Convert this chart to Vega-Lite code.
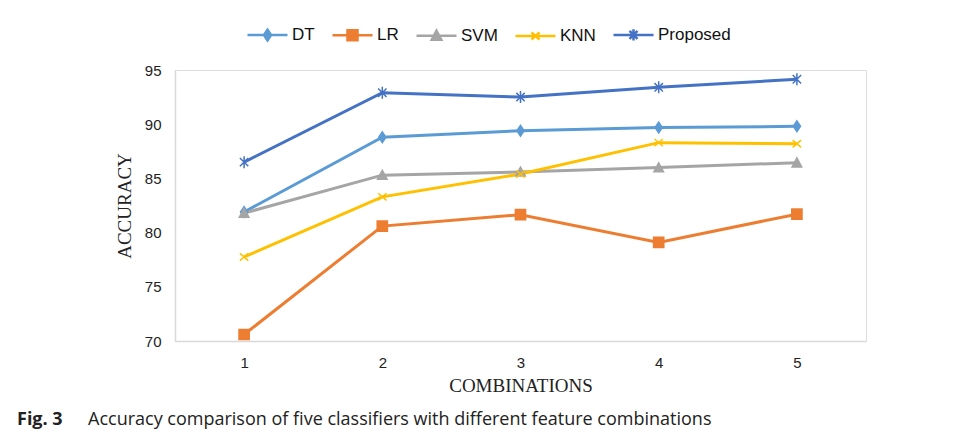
{
  "$schema": "https://vega.github.io/schema/vega-lite/v6.json",
  "autosize": "none",
  "width": 691,
  "height": 271,
  "padding": {"left": 175, "top": 70, "right": 94, "bottom": 99},
  "background": "white",
  "title": {
    "text": "Fig. 3",
    "subtitle": "Accuracy comparison of five classifiers with different feature combinations",
    "orient": "bottom",
    "anchor": "start",
    "frame": "group",
    "dx": -158,
    "offset": 16,
    "font": "Open Sans",
    "fontSize": 18,
    "fontWeight": "bold",
    "color": "#222",
    "subtitleFont": "Open Sans",
    "subtitleFontSize": 18,
    "subtitleColor": "#222",
    "subtitlePadding": -18,
    "encode": {"subtitle": {"update": {"dx": {"value": -87}}}}
  },
  "data": {
    "values": [
      {"combination": 1, "series": "DT", "accuracy": 81.9},
      {"combination": 2, "series": "DT", "accuracy": 88.8},
      {"combination": 3, "series": "DT", "accuracy": 89.4},
      {"combination": 4, "series": "DT", "accuracy": 89.7},
      {"combination": 5, "series": "DT", "accuracy": 89.8},
      {"combination": 1, "series": "LR", "accuracy": 70.6},
      {"combination": 2, "series": "LR", "accuracy": 80.6},
      {"combination": 3, "series": "LR", "accuracy": 81.65},
      {"combination": 4, "series": "LR", "accuracy": 79.1},
      {"combination": 5, "series": "LR", "accuracy": 81.7},
      {"combination": 1, "series": "SVM", "accuracy": 81.8},
      {"combination": 2, "series": "SVM", "accuracy": 85.3},
      {"combination": 3, "series": "SVM", "accuracy": 85.6},
      {"combination": 4, "series": "SVM", "accuracy": 86.0},
      {"combination": 5, "series": "SVM", "accuracy": 86.45},
      {"combination": 1, "series": "KNN", "accuracy": 77.75},
      {"combination": 2, "series": "KNN", "accuracy": 83.3},
      {"combination": 3, "series": "KNN", "accuracy": 85.4},
      {"combination": 4, "series": "KNN", "accuracy": 88.3},
      {"combination": 5, "series": "KNN", "accuracy": 88.2},
      {"combination": 1, "series": "Proposed", "accuracy": 86.5},
      {"combination": 2, "series": "Proposed", "accuracy": 92.9},
      {"combination": 3, "series": "Proposed", "accuracy": 92.5},
      {"combination": 4, "series": "Proposed", "accuracy": 93.4},
      {"combination": 5, "series": "Proposed", "accuracy": 94.15}
    ]
  },
  "encoding": {
    "x": {
      "field": "combination",
      "type": "ordinal",
      "scale": {"type": "point", "padding": 0.5},
      "axis": {
        "title": "COMBINATIONS",
        "labelAngle": 0,
        "ticks": false,
        "grid": false,
        "domainColor": "#D9D9D9",
        "domainWidth": 1.5,
        "labelFont": "Liberation Sans",
        "labelFontSize": 15,
        "labelColor": "#222",
        "labelPadding": 14,
        "titleFont": "Liberation Serif",
        "titleFontSize": 19,
        "titleFontWeight": "normal",
        "titleColor": "#222",
        "titlePadding": 6
      }
    },
    "y": {
      "field": "accuracy",
      "type": "quantitative",
      "scale": {"domain": [70, 95], "zero": false, "nice": false},
      "axis": {
        "title": "ACCURACY",
        "values": [70, 75, 80, 85, 90, 95],
        "ticks": false,
        "grid": false,
        "domainColor": "#D9D9D9",
        "domainWidth": 1.5,
        "labelFont": "Liberation Sans",
        "labelFontSize": 15,
        "labelColor": "#222",
        "labelPadding": 14,
        "titleFont": "Liberation Serif",
        "titleFontSize": 19,
        "titleFontWeight": "normal",
        "titleColor": "#222",
        "titlePadding": 10
      }
    }
  },
  "layer": [
    {
      "mark": {"type": "line", "strokeWidth": 3},
      "encoding": {
        "color": {
          "field": "series",
          "type": "nominal",
          "sort": ["DT", "LR", "SVM", "KNN", "Proposed"],
          "scale": {
            "domain": ["DT", "LR", "SVM", "KNN", "Proposed"],
            "range": ["#5B9BD5", "#ED7D31", "#A5A5A5", "#FFC000", "#4472C4"]
          },
          "legend": {
            "title": null,
            "orient": "none",
            "direction": "horizontal",
            "columns": 5,
            "legendX": 71,
            "legendY": -57,
            "symbolSize": 1600,
            "labelFont": "Liberation Sans",
            "labelFontSize": 17,
            "labelColor": "#111",
            "labelOffset": 3,
            "columnPadding": 12,
            "encode": {
              "symbols": {
                "update": {
                  "shape": {"signal": "datum.value === 'DT' ? 'M-1,0H1M0,-0.27L0.18,0L0,0.27L-0.18,0Z' : datum.value === 'LR' ? 'M-1,0H1M-0.25,-0.25H0.25V0.25H-0.25Z' : datum.value === 'SVM' ? 'M-1,0H1M0,-0.25L0.24,0.2H-0.24Z' : datum.value === 'KNN' ? 'M-1,0H1M-0.2,-0.18L0.2,0.18M-0.2,0.18L0.2,-0.18' : 'M-1,0H1M-0.2,-0.2L0.2,0.2M-0.2,0.2L0.2,-0.2M0,-0.28V0.28'"},
                  "fill": {"scale": "color", "field": "value"},
                  "stroke": {"scale": "color", "field": "value"},
                  "strokeWidth": {"value": 2.5},
                  "opacity": {"value": 1}
                }
              }
            }
          }
        }
      }
    },
    {
      "transform": [{"filter": "datum.series === 'DT'"}],
      "mark": {"type": "point", "filled": true, "opacity": 1, "size": 144, "strokeWidth": 1.5, "color": "#5B9BD5", "stroke": "#5B9BD5", "shape": "M0,-0.9L0.6,0L0,0.9L-0.6,0Z"}
    },
    {
      "transform": [{"filter": "datum.series === 'LR'"}],
      "mark": {"type": "point", "filled": true, "opacity": 1, "size": 144, "strokeWidth": 1.5, "color": "#ED7D31", "stroke": "#ED7D31", "shape": "M-0.85,-0.85H0.85V0.85H-0.85Z"}
    },
    {
      "transform": [{"filter": "datum.series === 'SVM'"}],
      "mark": {"type": "point", "filled": true, "opacity": 1, "size": 144, "strokeWidth": 1.5, "color": "#A5A5A5", "stroke": "#A5A5A5", "shape": "M0,-0.8L0.8,0.7H-0.8Z"}
    },
    {
      "transform": [{"filter": "datum.series === 'KNN'"}],
      "mark": {"type": "point", "filled": true, "opacity": 1, "size": 144, "strokeWidth": 1.5, "color": "#FFC000", "stroke": "#FFC000", "shape": "M-0.7,-0.6L0.7,0.6M-0.7,0.6L0.7,-0.6"}
    },
    {
      "transform": [{"filter": "datum.series === 'Proposed'"}],
      "mark": {"type": "point", "filled": true, "opacity": 1, "size": 144, "strokeWidth": 1.5, "color": "#4472C4", "stroke": "#4472C4", "shape": "M-0.7,-0.7L0.7,0.7M-0.7,0.7L0.7,-0.7M0,-1V1"}
    }
  ]
}
